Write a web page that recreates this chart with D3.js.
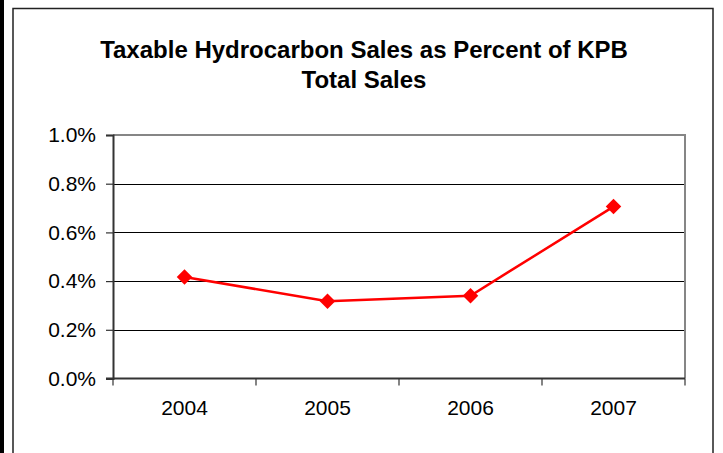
<!DOCTYPE html>
<html>
<head>
<meta charset="utf-8">
<script src="https://cdn.jsdelivr.net/npm/d3@7"></script>
<style>
  html, body { margin: 0; padding: 0; background: #fff; }
  svg { display: block; font-family: "Liberation Sans", Arial, sans-serif; }
</style>
</head>
<body>
<svg id="chart" width="723" height="453"></svg>
<script>
const titleLines = ["Taxable Hydrocarbon Sales as Percent of KPB", "Total Sales"];
const years = ["2004", "2005", "2006", "2007"];
const shares = [0.00417, 0.00317, 0.00340, 0.00706];
const yTicks = [0, 0.002, 0.004, 0.006, 0.008, 0.010];

const FONT = "'Liberation Sans', Arial, sans-serif";
const svg = d3.select("#chart");
const W = 723, H = 453;
const plot = { left: 113, right: 685, top: 135, bottom: 378.5 };

// outer decorations
svg.append("rect").attr("x", 0).attr("y", 0).attr("width", 4).attr("height", H).attr("fill", "#000");
svg.append("rect").attr("x", 13).attr("y", 8.5).attr("width", 700).attr("height", 460)
  .attr("fill", "#fff").attr("stroke", "#222").attr("stroke-width", 1.5);

const x = d3.scaleBand().domain(years).range([plot.left, plot.right]).padding(0);
const y = d3.scaleLinear().domain([0, 0.01]).range([plot.bottom, plot.top]);

// gridlines
svg.append("g").selectAll("line").data(yTicks.filter(d => d > 0 && d < 0.01)).join("line")
  .attr("x1", plot.left).attr("x2", plot.right)
  .attr("y1", d => Math.round(y(d)) + 0.5).attr("y2", d => Math.round(y(d)) + 0.5)
  .attr("stroke", "#000").attr("stroke-width", 1);

// plot border top/right (grey)
svg.append("path")
  .attr("d", `M${plot.left},${plot.top}H${plot.right}V${plot.bottom}`)
  .attr("fill", "none").attr("stroke", "#868686").attr("stroke-width", 2);

// y axis
const yAxis = d3.axisLeft(y).tickValues(yTicks).tickFormat(d3.format(".1%")).tickSize(7).tickPadding(10);
const gy = svg.append("g").attr("transform", `translate(${plot.left},0)`).call(yAxis);
gy.select(".domain").attr("stroke", "#333").attr("stroke-width", 2);
gy.selectAll(".tick line").attr("stroke", "#333").attr("stroke-width", 1.2);
gy.selectAll(".tick text").attr("font-size", 21).attr("fill", "#000").attr("font-family", FONT);

// x axis
const xAxis = d3.axisBottom(x).tickSize(0).tickPadding(22);
const gx = svg.append("g").attr("transform", `translate(0,${plot.bottom})`).call(xAxis);
gx.select(".domain").remove();
gx.selectAll(".tick text").attr("font-size", 21).attr("fill", "#000").attr("font-family", FONT);
svg.append("line").attr("x1", plot.left - 7).attr("x2", plot.right)
  .attr("y1", plot.bottom).attr("y2", plot.bottom).attr("stroke", "#333").attr("stroke-width", 2);
// category boundary ticks
const bounds = years.map(d => x(d)).concat([x(years[years.length - 1]) + x.bandwidth()]);
svg.append("g").selectAll("line").data(bounds).join("line")
  .attr("x1", d => d).attr("x2", d => d)
  .attr("y1", plot.bottom).attr("y2", plot.bottom + 7)
  .attr("stroke", "#333").attr("stroke-width", 1.2);

// line
const cx = d => x(d) + x.bandwidth() / 2;
const line = d3.line().x((d, i) => cx(years[i])).y(d => y(d));
svg.append("path").datum(shares).attr("d", line)
  .attr("fill", "none").attr("stroke", "#ff0000").attr("stroke-width", 2.5);

// diamond markers
const sym = d3.symbol().type(d3.symbolSquare).size(120);
svg.append("g").selectAll("path").data(shares).join("path")
  .attr("transform", (d, i) => `translate(${cx(years[i])},${y(d)}) rotate(45)`)
  .attr("d", sym).attr("fill", "#ff0000");

// title
const title = svg.append("text").attr("x", 364).attr("y", 58).attr("text-anchor", "middle")
  .attr("font-size", 24).attr("font-weight", "bold").attr("fill", "#000").attr("font-family", FONT);
title.selectAll("tspan").data(titleLines).join("tspan")
  .attr("x", 364).attr("dy", (d, i) => i === 0 ? 0 : 29.5).text(d => d);
</script>
</body>
</html>
